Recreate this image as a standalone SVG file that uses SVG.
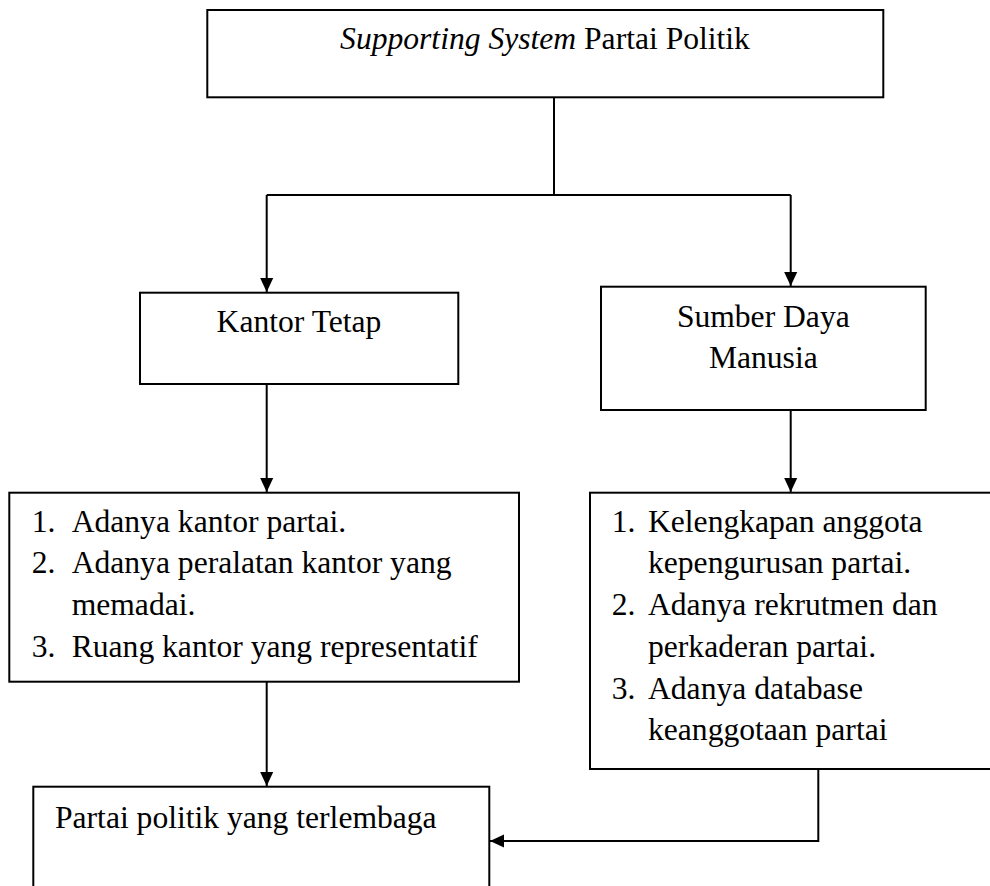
<svg xmlns="http://www.w3.org/2000/svg" width="990" height="886" viewBox="0 0 990 886">
<style>
.box{fill:#fff;stroke:#000;stroke-width:2}
.t{font-family:"Liberation Serif","Times New Roman",serif;font-size:31.6px;fill:#000}
.c{text-anchor:middle}
.ln{fill:none;stroke:#000;stroke-width:2}
</style>
<defs>
<marker id="ah" markerWidth="14" markerHeight="15" viewBox="0 0 15 14" refX="15" refY="7" orient="auto" markerUnits="userSpaceOnUse">
<path d="M0,0 L15,7 L0,14 Z" fill="#000"/>
</marker>
</defs>
<rect width="990" height="886" fill="#fff"/>
<g id="connectors">
<path class="ln" d="M554,97 V195"/>
<path class="ln" d="M266.7,195 H790.7"/>
<path class="ln" d="M266.7,195 V292" marker-end="url(#ah)"/>
<path class="ln" d="M790.7,195 V286" marker-end="url(#ah)"/>
<path class="ln" d="M266.7,384 V492" marker-end="url(#ah)"/>
<path class="ln" d="M790.7,410 V492" marker-end="url(#ah)"/>
<path class="ln" d="M266.7,678 V786" marker-end="url(#ah)"/>
<path class="ln" d="M818.3,769 V841 H490" marker-end="url(#ah)"/>
</g>
<g id="top">
<rect class="box" x="207.3" y="10" width="676" height="87.3"/>
<text class="t c" x="545" y="49"><tspan font-style="italic">Supporting System</tspan> Partai Politik</text>
</g>
<g id="kantor">
<rect class="box" x="140" y="292.7" width="318.3" height="91.3"/>
<text class="t c" x="299" y="331.7">Kantor Tetap</text>
</g>
<g id="sdm">
<rect class="box" x="601" y="286.7" width="324.7" height="123.3"/>
<text class="t c" x="763.3" y="326.7">Sumber Daya</text>
<text class="t c" x="763.3" y="368">Manusia</text>
</g>
<g id="list-kantor">
<rect class="box" x="9.3" y="492.7" width="509.7" height="189"/>
<text class="t" x="31.7" y="531.7">1.</text><text class="t" x="71.7" y="531.7">Adanya kantor partai.</text>
<text class="t" x="31.7" y="573.3">2.</text><text class="t" x="71.7" y="573.3">Adanya peralatan kantor yang</text>
<text class="t" x="71.7" y="615">memadai.</text>
<text class="t" x="31.7" y="656.7">3.</text><text class="t" x="71.7" y="656.7">Ruang kantor yang representatif</text>
</g>
<g id="list-sdm">
<rect class="box" x="590" y="492.7" width="410" height="276.3"/>
<text class="t" x="611.7" y="531.7">1.</text><text class="t" x="648" y="531.7">Kelengkapan anggota</text>
<text class="t" x="648" y="573.4">kepengurusan partai.</text>
<text class="t" x="611.7" y="615.1">2.</text><text class="t" x="648" y="615.1">Adanya rekrutmen dan</text>
<text class="t" x="648" y="656.8">perkaderan partai.</text>
<text class="t" x="611.7" y="698.5">3.</text><text class="t" x="648" y="698.5">Adanya database</text>
<text class="t" x="648" y="740.2">keanggotaan partai</text>
</g>
<g id="hasil">
<rect class="box" x="33.3" y="786.7" width="456" height="120"/>
<text class="t" x="55" y="828.3">Partai politik yang terlembaga</text>
</g>
</svg>
